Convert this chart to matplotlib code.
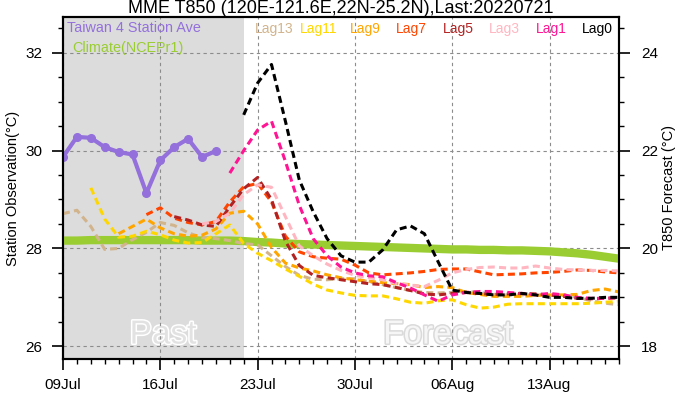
import numpy as np
import matplotlib.pyplot as plt
import matplotlib.dates as mdates
import matplotlib.patheffects as pe
from matplotlib.ticker import MultipleLocator

plt.rcParams["font.family"] = ["Liberation Sans", "DejaVu Sans"]

start = np.datetime64("2022-07-09")
end = np.datetime64("2022-08-18")
past_end = np.datetime64("2022-07-22")

# Taiwan 4 station average (daily, from 09Jul)
obs = [29.87, 30.28, 30.26, 30.07, 29.97, 29.92, 29.13, 29.80, 30.07, 30.24, 29.87, 29.99]

# NCEP R1 T850 climate (daily, 09Jul..18Aug)
climate = [20.16, 20.16, 20.17, 20.17, 20.17, 20.17, 20.17, 20.17, 20.17, 20.17,
           20.16, 20.16, 20.16, 20.15, 20.13, 20.12, 20.10, 20.09, 20.08, 20.07,
           20.06, 20.05, 20.04, 20.03, 20.02, 20.01, 20.00, 19.99, 19.98, 19.98,
           19.97, 19.97, 19.96, 19.96, 19.95, 19.94, 19.92, 19.90, 19.87, 19.83, 19.79]

# lagged T850 forecasts, all ending 18Aug
lag13 = [20.71, 20.78, 20.45, 19.98, 20.00, 20.18, 20.33, 20.53, 20.47, 20.32,
         20.22, 20.20, 20.16, 20.10, 20.07, 19.85, 19.63, 19.45, 19.37, 19.36,
         19.38, 19.38, 19.32, 19.26, 19.20, 19.14, 19.10, 19.09, 19.10, 19.12,
         19.10, 19.06, 19.05, 19.05, 19.05, 19.04, 19.04, 19.00, 18.93, 18.88, 18.85]
lag11 = [21.24, 20.60, 20.23, 20.25, 20.35, 20.28, 20.17, 20.11, 20.12, 20.30,
         20.48, 20.10, 19.90, 19.75, 19.58, 19.43, 19.27, 19.15, 19.09, 19.04,
         19.03, 19.03, 18.97, 18.90, 18.88, 18.93, 18.95, 18.85, 18.78, 18.80,
         18.86, 18.87, 18.87, 18.87, 18.87, 18.87, 18.88, 18.90, 18.92]
lag9 = [20.30, 20.45, 20.60, 20.42, 20.30, 20.25, 20.27, 20.40, 20.72, 20.76,
        20.50, 20.02, 19.70, 19.60, 19.54, 19.46, 19.40, 19.36, 19.33, 19.30,
        19.28, 19.26, 19.20, 19.22, 19.20, 19.10, 19.06, 19.02, 19.02, 19.02,
        19.04, 19.05, 19.05, 19.06, 19.14, 19.17, 19.11]
lag7 = [20.69, 20.83, 20.62, 20.53, 20.48, 20.55, 20.95, 21.26, 21.33, 20.95,
        20.25, 19.93, 19.83, 19.80, 19.78, 19.66, 19.50, 19.46, 19.48, 19.50,
        19.53, 19.57, 19.58, 19.58, 19.52, 19.46, 19.47, 19.48, 19.50, 19.51,
        19.53, 19.56, 19.55, 19.52, 19.50]
lag5 = [20.65, 20.58, 20.48, 20.45, 20.85, 21.22, 21.45, 21.00, 20.15, 19.65,
        19.45, 19.40, 19.36, 19.32, 19.28, 19.26, 19.20, 19.14, 19.07, 19.05,
        19.08, 19.10, 19.08, 19.06, 19.07, 19.08, 19.07, 19.05, 19.02, 18.98,
        18.97, 18.98, 18.99]
lag3 = [20.50, 20.55, 20.72, 21.10, 21.30, 21.25, 20.65, 20.05, 19.85, 19.68,
        19.55, 19.45, 19.40, 19.36, 19.28, 19.25, 19.22, 19.35, 19.50, 19.57,
        19.61, 19.62, 19.60, 19.60, 19.64, 19.60, 19.57, 19.56, 19.55, 19.55, 19.54]
lag1 = [21.54, 22.00, 22.42, 22.60, 21.78, 20.88, 20.20, 19.85, 19.62, 19.50,
        19.44, 19.42, 19.30, 19.19, 19.05, 18.92, 19.05, 19.10, 19.12, 19.12,
        19.10, 19.08, 19.05, 19.08, 19.05, 19.00, 18.98, 18.98, 19.00]
lag0 = [22.73, 23.38, 23.76, 22.60, 21.40, 20.75, 20.20, 19.85, 19.72, 19.72,
        19.97, 20.38, 20.46, 20.30, 19.72, 19.15, 19.10, 19.08, 19.05, 19.05,
        19.08, 19.05, 19.00, 19.00, 18.98, 18.98, 19.00, 19.00]

lag_names = ["Lag13", "Lag11", "Lag9", "Lag7", "Lag5", "Lag3", "Lag1", "Lag0"]
lag_series = [lag13, lag11, lag9, lag7, lag5, lag3, lag1, lag0]
lag_colors = ["#D2B48C", "#FFD700", "#FFA500", "#FF4500", "#B22222", "#FFB6C1", "#FF1493", "#000000"]

W, H = 682, 397
fig = plt.figure(figsize=(W / 100, H / 100), dpi=100)
ax = fig.add_axes([63 / W, 38 / H, 556 / W, 342 / H])
ax2 = ax.twinx()

one_day = np.timedelta64(1, "D")
obs_days = start + np.arange(len(obs)) * one_day
clim_days = start + np.arange(len(climate)) * one_day

ax.axvspan(start, past_end, color="#dcdcdc", lw=0, zorder=0)
ax.grid(True, which="major", ls=(0, (3, 3)), color="#8c8c8c", lw=0.8)

t0 = mdates.date2num(start)
ax.text(t0 + 7.2, 26.23, "Past", fontsize=24, color="#e2e2e2", ha="center", va="center",
        zorder=1, path_effects=[pe.withStroke(linewidth=2.2, foreground="white")])
ax.text(t0 + 27.7, 26.23, "Forecast", fontsize=24, color="#f6f6f6", ha="center", va="center",
        zorder=1, path_effects=[pe.withStroke(linewidth=2.2, foreground="#dadada")])

ax.plot(obs_days, obs, color="#9370DB", lw=3, marker="o", ms=5.5, zorder=5)

ax2.plot(clim_days, climate, color="#9ACD32", lw=6, solid_capstyle="butt", zorder=1)
for name, vals, col in zip(lag_names, lag_series, lag_colors):
    days = end - np.arange(len(vals))[::-1] * one_day
    ax2.plot(days, vals, color=col, lw=2.2, ls=(0, (2.3, 1.4)), zorder=2)

ax.set_xlim(start, end)
ax.set_ylim(25.74, 32.73)
ax2.set_ylim(17.74, 24.73)
ax.set_yticks([26, 28, 30, 32])
ax2.set_yticks([18, 20, 22, 24])
for a in (ax, ax2):
    a.yaxis.set_minor_locator(MultipleLocator(0.5))
    for s in a.spines.values():
        s.set_linewidth(1.5)
ax.set_xticks(start + np.arange(0, 41, 7) * one_day)
ax.xaxis.set_minor_locator(mdates.DayLocator())
ax.xaxis.set_major_formatter(mdates.DateFormatter("%d%b"))

ax.tick_params(which="major", direction="out", length=8, width=1.2, pad=5.5, labelsize=11)
ax.tick_params(which="minor", direction="out", length=3.8, width=1.0)
ax.tick_params(axis="y", which="major", pad=7)
ax2.tick_params(which="major", direction="out", length=8, width=1.2, pad=8, labelsize=11)
ax2.tick_params(which="minor", direction="out", length=3.8, width=1.0)

ax.set_ylabel("Station Observation(°C)", fontsize=10.5, labelpad=4)
ax2.set_ylabel("T850 Forecast (°C)", fontsize=10.5, labelpad=3)
ax.set_title("MME T850 (120E-121.6E,22N-25.2N),Last:20220721", fontsize=13, pad=3)

fig.text(67 / W, 1 - 28 / H, "Taiwan 4 Station Ave", color="#9370DB", fontsize=10.4, va="center")
fig.text(72 / W, 1 - 48 / H, "Climate(NCEPr1)", color="#9ACD32", fontsize=10.4, va="center")
lag_x = [255, 300, 350, 396, 443, 489, 536, 582]
for name, col, xp in zip(lag_names, lag_colors, lag_x):
    fig.text(xp / W, 1 - 29 / H, name, color=col, fontsize=10, va="center")

fig.savefig("out.png", dpi=100)
